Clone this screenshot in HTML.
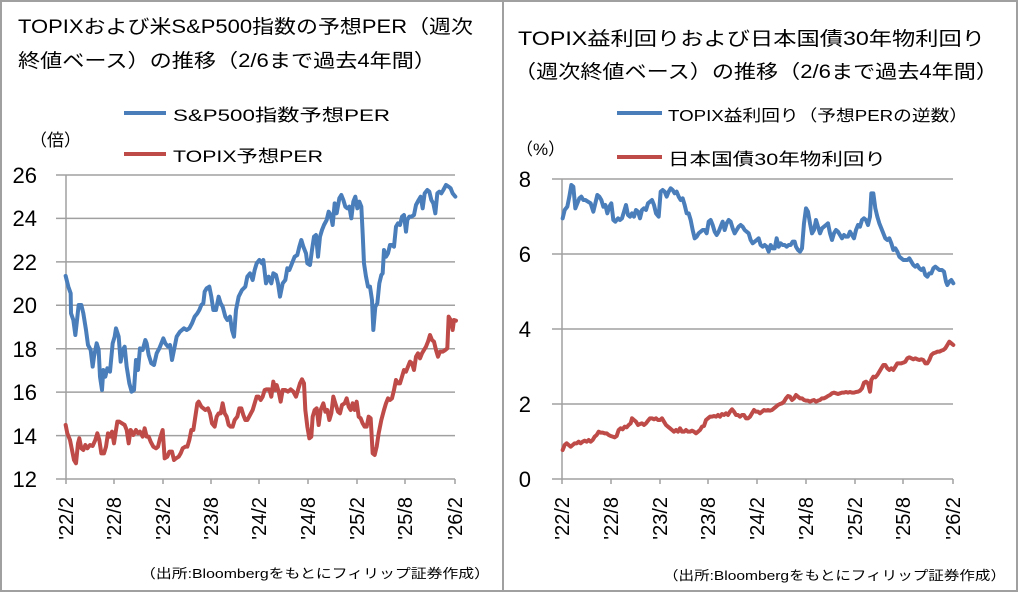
<!DOCTYPE html>
<html><head><meta charset="utf-8"><style>
html,body{margin:0;padding:0;background:#fff;}
svg{display:block;font-family:"Liberation Sans","Noto Sans CJK JP",sans-serif;}
</style></head><body>
<svg width="1024" height="592" viewBox="0 0 1024 592" xmlns="http://www.w3.org/2000/svg">
<rect x="0" y="0" width="1024" height="592" fill="#fff"/>
<rect x="1" y="1" width="1016" height="590" fill="none" stroke="#a0a0a0" stroke-width="2"/>
<line x1="503" y1="1" x2="503" y2="591" stroke="#a0a0a0" stroke-width="2"/>

<!-- LEFT -->
<text x="18" y="33" font-size="19" textLength="455" lengthAdjust="spacingAndGlyphs">TOPIXおよび米S&amp;P500指数の予想PER（週次</text>
<text x="18" y="67" font-size="19" textLength="418" lengthAdjust="spacingAndGlyphs">終値ベース）の推移（2/6まで過去4年間）</text>
<line x1="124" y1="113" x2="166" y2="113" stroke="#4a7ebb" stroke-width="4"/>
<text x="173" y="121" font-size="17" textLength="217" lengthAdjust="spacingAndGlyphs">S&amp;P500指数予想PER</text>
<line x1="124" y1="154" x2="166" y2="154" stroke="#be4b48" stroke-width="4"/>
<text x="173" y="162" font-size="17" textLength="150" lengthAdjust="spacingAndGlyphs">TOPIX予想PER</text>
<text x="30" y="146" font-size="17">（倍）</text>
<g stroke="#a0a0a0" stroke-width="1.5">
<line x1="56" y1="175" x2="455" y2="175"/><line x1="56" y1="218.4" x2="455" y2="218.4"/>
<line x1="56" y1="261.9" x2="455" y2="261.9"/><line x1="56" y1="305.3" x2="455" y2="305.3"/>
<line x1="56" y1="348.7" x2="455" y2="348.7"/><line x1="56" y1="392.1" x2="455" y2="392.1"/>
<line x1="56" y1="435.6" x2="455" y2="435.6"/><line x1="56" y1="479" x2="455" y2="479"/>
<line x1="66" y1="175" x2="66" y2="484"/>
<line x1="114" y1="479" x2="114" y2="484"/><line x1="163" y1="479" x2="163" y2="484"/>
<line x1="211" y1="479" x2="211" y2="484"/><line x1="259" y1="479" x2="259" y2="484"/>
<line x1="308" y1="479" x2="308" y2="484"/><line x1="357" y1="479" x2="357" y2="484"/>
<line x1="405" y1="479" x2="405" y2="484"/><line x1="455" y1="479" x2="455" y2="484"/>
</g>
<g font-size="22" text-anchor="end">
<text x="37" y="183">26</text><text x="37" y="226">24</text><text x="37" y="270">22</text>
<text x="37" y="313">20</text><text x="37" y="357">18</text><text x="37" y="400">16</text>
<text x="37" y="444">14</text><text x="37" y="487">12</text>
</g>
<g font-size="20" text-anchor="end">
<text transform="translate(73,497) rotate(-90)">'22/2</text>
<text transform="translate(121,497) rotate(-90)">'22/8</text>
<text transform="translate(170,497) rotate(-90)">'23/2</text>
<text transform="translate(218,497) rotate(-90)">'23/8</text>
<text transform="translate(266,497) rotate(-90)">'24/2</text>
<text transform="translate(315,497) rotate(-90)">'24/8</text>
<text transform="translate(364,497) rotate(-90)">'25/2</text>
<text transform="translate(412,497) rotate(-90)">'25/8</text>
<text transform="translate(462,497) rotate(-90)">'26/2</text>
</g>
<text x="140" y="578" font-size="13" textLength="350" lengthAdjust="spacingAndGlyphs">（出所:Bloombergをもとにフィリップ証券作成）</text>
<g transform="translate(0,150) scale(0.33333)" fill="none" stroke-width="12" stroke-linejoin="round" stroke-linecap="round">
<polyline stroke="#4a7ebb" points="197,378 205,410 212,430 213,490 220,510 226,555 230,520 236,465 244,465 250,490 258,540 264,585 272,600 278,650 282,620 290,580 296,600 300,680 306,720 310,660 316,680 322,655 330,665 338,580 344,560 348,535 356,560 362,635 368,600 374,590 380,650 388,700 395,725 402,720 408,630 414,660 420,595 428,600 436,570 440,580 446,615 454,640 462,645 470,610 478,595 484,580 490,565 496,580 504,590 510,585 516,630 522,600 530,560 540,545 552,535 560,540 568,535 576,520 584,500 592,490 598,480 604,465 610,460 614,425 620,415 628,410 634,440 640,480 648,480 656,440 662,460 668,470 676,500 682,510 690,500 696,540 702,560 708,480 716,440 726,420 736,410 742,380 750,370 758,390 764,360 770,340 778,330 786,340 790,330 798,400 806,380 814,400 820,370 828,375 834,400 840,440 848,400 856,390 862,355 868,360 876,340 884,320 892,315 898,290 904,270 910,290 918,310 922,340 930,345 936,300 942,260 948,255 954,320 960,260 966,240 972,225 980,210 986,185 992,195 998,225 1004,160 1010,190 1018,145 1024,135 1030,150 1036,170 1042,175 1048,170 1054,205 1060,155 1066,140 1072,175 1078,155 1084,170 1088,250 1092,340 1098,380 1104,410 1110,410 1116,450 1120,540 1126,470 1132,460 1138,400 1144,375 1148,370 1152,300 1158,320 1164,310 1170,285 1176,285 1182,290 1188,230 1194,220 1200,225 1206,200 1212,195 1218,245 1222,210 1228,200 1234,200 1242,195 1248,165 1256,150 1262,140 1268,175 1274,130 1282,120 1288,125 1294,150 1300,160 1306,190 1312,130 1318,125 1324,130 1330,120 1338,105 1346,110 1352,115 1358,130 1366,140"/>
<polyline stroke="#be4b48" points="197,825 202,850 210,870 216,900 222,930 228,940 234,880 238,865 244,895 250,900 256,885 262,895 270,885 278,888 286,870 292,850 298,870 304,910 312,910 318,890 324,850 330,860 336,845 342,880 348,840 352,815 358,815 366,820 374,825 380,840 386,880 392,840 400,855 408,840 414,850 420,845 428,860 434,835 440,860 446,860 452,875 460,890 468,895 474,890 480,865 488,840 494,925 502,920 508,905 516,905 522,930 528,925 536,920 542,910 548,895 556,890 562,890 568,870 574,840 580,840 586,800 592,760 596,755 604,770 610,775 616,780 624,775 630,790 636,820 644,830 650,800 656,790 662,790 668,760 674,790 680,800 686,825 692,830 698,830 704,810 712,800 718,775 724,775 730,795 736,810 742,810 750,795 758,780 764,760 770,740 776,740 782,750 788,740 794,720 800,718 808,718 814,740 820,695 826,720 830,705 836,725 842,755 848,720 856,720 864,725 872,718 880,725 888,740 894,720 900,700 906,688 912,700 916,780 922,830 928,865 934,860 938,800 944,780 950,775 956,825 962,780 970,760 976,785 982,780 988,810 994,790 1000,740 1006,760 1014,785 1020,790 1026,765 1034,760 1040,745 1046,770 1052,780 1058,760 1064,780 1070,755 1076,800 1082,805 1088,820 1094,830 1100,830 1106,800 1112,805 1118,910 1124,915 1130,890 1136,850 1144,810 1152,780 1158,760 1164,745 1170,750 1176,745 1182,720 1188,690 1194,700 1200,700 1206,680 1212,660 1218,665 1224,650 1230,635 1236,640 1242,660 1248,620 1254,610 1260,625 1266,610 1272,600 1278,590 1284,575 1290,555 1296,570 1302,575 1308,600 1314,620 1320,605 1328,605 1336,600 1342,595 1346,500 1352,510 1358,540 1362,510 1368,512"/>
</g>

<!-- RIGHT -->
<text x="518" y="45" font-size="19" textLength="467" lengthAdjust="spacingAndGlyphs">TOPIX益利回りおよび日本国債30年物利回り</text>
<text x="514" y="78" font-size="19" textLength="484" lengthAdjust="spacingAndGlyphs">（週次終値ベース）の推移（2/6まで過去4年間）</text>
<line x1="617" y1="113" x2="662" y2="113" stroke="#4a7ebb" stroke-width="4"/>
<text x="668" y="121" font-size="16" textLength="300" lengthAdjust="spacingAndGlyphs">TOPIX益利回り（予想PERの逆数）</text>
<line x1="617" y1="157" x2="662" y2="157" stroke="#be4b48" stroke-width="4"/>
<text x="668" y="165" font-size="17" textLength="218" lengthAdjust="spacingAndGlyphs">日本国債30年物利回り</text>
<text x="516" y="155" font-size="17">（%）</text>
<g stroke="#a0a0a0" stroke-width="1.5">
<line x1="552" y1="179" x2="953" y2="179"/><line x1="552" y1="254" x2="953" y2="254"/>
<line x1="552" y1="329" x2="953" y2="329"/><line x1="552" y1="404" x2="953" y2="404"/>
<line x1="552" y1="479" x2="953" y2="479"/>
<line x1="562" y1="179" x2="562" y2="484"/>
<line x1="611" y1="479" x2="611" y2="484"/><line x1="660" y1="479" x2="660" y2="484"/>
<line x1="708" y1="479" x2="708" y2="484"/><line x1="757" y1="479" x2="757" y2="484"/>
<line x1="806" y1="479" x2="806" y2="484"/><line x1="855" y1="479" x2="855" y2="484"/>
<line x1="903" y1="479" x2="903" y2="484"/><line x1="953" y1="479" x2="953" y2="484"/>
</g>
<g font-size="22" text-anchor="end">
<text x="531" y="187">8</text><text x="531" y="262">6</text><text x="531" y="337">4</text>
<text x="531" y="412">2</text><text x="531" y="487">0</text>
</g>
<g font-size="20" text-anchor="end">
<text transform="translate(569,497) rotate(-90)">'22/2</text>
<text transform="translate(618,497) rotate(-90)">'22/8</text>
<text transform="translate(667,497) rotate(-90)">'23/2</text>
<text transform="translate(715,497) rotate(-90)">'23/8</text>
<text transform="translate(764,497) rotate(-90)">'24/2</text>
<text transform="translate(813,497) rotate(-90)">'24/8</text>
<text transform="translate(862,497) rotate(-90)">'25/2</text>
<text transform="translate(910,497) rotate(-90)">'25/8</text>
<text transform="translate(960,497) rotate(-90)">'26/2</text>
</g>
<text x="663" y="580" font-size="13" textLength="343" lengthAdjust="spacingAndGlyphs">（出所:Bloombergをもとにフィリップ証券作成）</text>
<g transform="translate(512,150) scale(0.33333)" fill="none" stroke-width="12" stroke-linejoin="round" stroke-linecap="round">
<polyline stroke="#4a7ebb" points="152,205 158,180 166,170 172,140 178,105 184,110 190,175 196,160 202,145 208,140 214,150 220,150 228,155 236,160 244,185 250,160 256,135 262,140 268,150 274,170 280,165 286,190 292,170 298,160 304,210 310,215 318,205 324,210 330,205 336,185 342,165 348,195 354,200 360,190 366,200 372,180 378,185 384,205 390,180 396,175 402,180 408,160 414,155 420,150 426,165 432,190 440,200 446,125 452,120 458,125 464,140 470,125 476,115 482,120 488,130 494,125 500,140 506,150 512,145 518,165 524,190 530,190 536,210 542,240 548,265 554,260 560,250 566,245 572,240 578,240 584,250 590,215 596,210 602,225 608,245 614,255 620,245 626,230 632,215 638,240 644,220 650,210 656,215 662,235 668,250 674,240 680,230 686,225 692,230 698,240 704,245 710,250 716,270 722,280 728,275 734,270 740,265 746,285 752,290 758,285 764,290 770,305 776,285 782,295 788,295 794,265 800,290 806,280 812,285 818,285 824,290 830,285 836,285 842,275 848,275 852,290 858,300 864,305 870,295 876,220 882,175 888,185 894,220 900,250 906,240 912,210 918,230 924,250 930,235 936,230 942,225 948,220 954,250 960,270 966,250 972,240 978,245 984,255 990,265 996,255 1002,260 1008,260 1014,245 1020,255 1026,265 1032,240 1038,225 1044,230 1050,210 1056,205 1062,210 1068,225 1074,200 1078,130 1084,130 1090,175 1096,200 1102,220 1108,235 1114,250 1120,265 1126,270 1132,265 1138,280 1144,300 1150,295 1156,305 1162,320 1168,325 1174,330 1180,330 1186,330 1192,325 1198,335 1204,345 1210,350 1216,345 1222,355 1228,360 1234,355 1240,375 1246,380 1252,370 1258,370 1264,355 1270,350 1276,355 1282,360 1290,360 1296,365 1302,395 1306,405 1312,395 1318,390 1324,400"/>
<polyline stroke="#be4b48" points="152,900 158,885 164,880 170,885 176,890 182,885 188,880 194,880 200,875 206,880 212,875 218,872 224,875 230,870 236,875 242,870 248,860 254,855 260,845 266,848 272,848 278,850 284,850 290,855 296,858 302,860 308,862 314,858 320,840 326,835 332,838 338,830 344,832 350,825 356,820 360,805 366,810 372,815 378,825 384,822 390,820 396,825 402,820 408,812 414,805 420,805 426,808 432,805 438,810 444,810 450,805 456,815 462,825 468,830 474,835 480,840 486,845 492,840 498,845 504,835 510,845 516,845 522,840 528,845 534,845 540,842 546,845 552,850 558,845 564,840 570,830 576,828 582,810 588,805 594,800 600,800 606,798 612,800 618,795 624,800 630,792 636,795 642,790 648,795 654,785 660,778 666,785 672,795 678,795 684,800 690,795 696,795 702,805 708,805 714,800 720,790 726,780 732,785 738,785 744,790 750,785 756,780 762,782 768,780 774,782 780,780 786,775 792,770 798,765 804,762 810,760 816,755 822,745 828,738 834,740 840,750 846,745 852,735 858,740 864,745 870,745 876,750 882,752 888,752 894,755 900,752 906,750 912,755 918,752 924,750 930,745 936,745 942,742 948,738 954,735 960,730 966,728 972,730 978,732 984,730 990,728 996,728 1002,726 1008,728 1014,726 1020,728 1026,728 1032,726 1038,725 1044,722 1050,715 1056,698 1062,695 1068,700 1074,725 1078,690 1084,680 1090,682 1096,675 1102,665 1108,655 1114,645 1120,645 1126,655 1132,660 1138,655 1144,660 1150,650 1156,640 1162,640 1168,640 1174,638 1180,635 1186,625 1192,622 1198,625 1204,628 1210,625 1216,628 1222,630 1228,628 1234,630 1240,640 1246,640 1252,630 1258,615 1264,610 1270,608 1276,605 1282,605 1288,602 1294,600 1300,595 1306,585 1312,575 1318,580 1324,585"/>
</g>
</svg>
</body></html>
